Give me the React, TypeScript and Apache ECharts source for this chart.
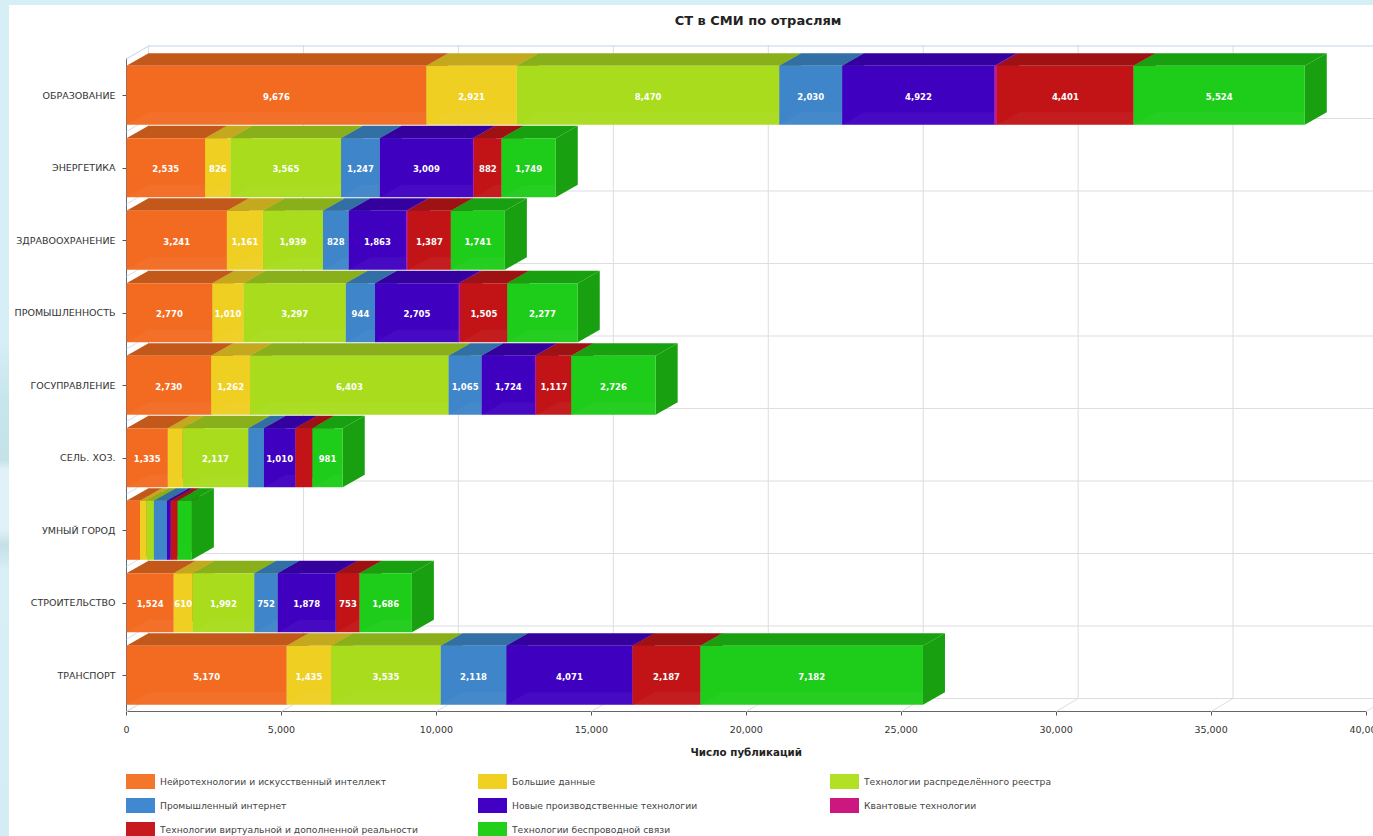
import React, { useEffect, useRef } from "react";
import * as echarts from "echarts";

const CHART_TITLE = "СТ в СМИ по отраслям";
const AXIS_NAME = "Число публикаций";

const sectors = [
  "ОБРАЗОВАНИЕ",
  "ЭНЕРГЕТИКА",
  "ЗДРАВООХРАНЕНИЕ",
  "ПРОМЫШЛЕННОСТЬ",
  "ГОСУПРАВЛЕНИЕ",
  "СЕЛЬ. ХОЗ.",
  "УМНЫЙ ГОРОД",
  "СТРОИТЕЛЬСТВО",
  "ТРАНСПОРТ",
];

const xTicks = [0, 5000, 10000, 15000, 20000, 25000, 30000, 35000, 40000];

const neuro = [9676, 2535, 3241, 2770, 2730, 1335, 435, 1524, 5170];
const bigData = [2921, 826, 1161, 1010, 1262, 480, 215, 610, 1435];
const ledger = [8470, 3565, 1939, 3297, 6403, 2117, 235, 1992, 3535];
const industrialNet = [2030, 1247, 828, 944, 1065, 505, 420, 752, 2118];
const manufacturing = [4922, 3009, 1863, 2705, 1724, 1010, 120, 1878, 4071];
const quantum = [80, 40, 50, 55, 50, 15, 10, 15, 5];
const immersive = [4401, 882, 1387, 1505, 1117, 535, 210, 753, 2187];
const wireless = [5524, 1749, 1741, 2277, 2726, 981, 465, 1686, 7182];

const technologies = [
  { name: "Нейротехнологии и искусственный интеллект", values: neuro, legend: "#f4762a", front: "#f26b21", top: "#c2591b" },
  { name: "Большие данные", values: bigData, legend: "#f0d020", front: "#efcf22", top: "#c4a81e" },
  { name: "Технологии распределённого реестра", values: ledger, legend: "#b2e024", front: "#a8dc1c", top: "#89b01a" },
  { name: "Промышленный интернет", values: industrialNet, legend: "#4088d0", front: "#3e85c9", top: "#316fa5" },
  { name: "Новые производственные технологии", values: manufacturing, legend: "#4200c4", front: "#3f00c0", top: "#34009e" },
  { name: "Квантовые технологии", values: quantum, legend: "#cc1680", front: "#cc1680", top: "#a51268" },
  { name: "Технологии виртуальной и дополненной реальности", values: immersive, legend: "#c81a1e", front: "#c21416", top: "#9e1214" },
  { name: "Технологии беспроводной связи", values: wireless, legend: "#22d01c", front: "#1ecc1a", top: "#18a010" },
];

// The legend runs left to right over three columns.
const legendColumnLefts = [126, 478, 830];
const legendRowTops = [774, 798, 822];

const LABEL_FROM = 600;
const DEPTH_X = 22;
const DEPTH_Y = 12.5;
const BAR_SHARE = 0.815;
const FONT = "'DejaVu Sans', Verdana, sans-serif";

// Start and end of each segment along the stack, per technology and sector.
function stackedRows() {
  const running = sectors.map(() => 0);
  return technologies.map((tech) =>
    tech.values.map((value, sector) => {
      const start = running[sector];
      running[sector] += value;
      return [start, running[sector], sector, value];
    })
  );
}

function poly(points: number[][], fill: string, opacity = 1) {
  return { type: "polygon", shape: { points }, style: { fill, opacity }, silent: true };
}

// One block: front, top and side faces plus its centred value.
function segmentRenderer(tech: (typeof technologies)[number]) {
  return (_params: any, api: any) => {
    const [xa, yc] = api.coord([api.value(0), api.value(2)]);
    const [xb] = api.coord([api.value(1), api.value(2)]);
    const value = api.value(3);
    const h = api.size([0, 1])[1] * BAR_SHARE;
    const yt = yc - h / 2;
    const yb = yc + h / 2;
    const children: any[] = [
      poly([[xa, yt], [xa + DEPTH_X, yt - DEPTH_Y], [xb + DEPTH_X, yt - DEPTH_Y], [xb, yt]], tech.top),
      poly([[xb, yt], [xb + DEPTH_X, yt - DEPTH_Y], [xb + DEPTH_X, yb - DEPTH_Y], [xb, yb]], tech.top),
      poly([[xa, yt], [xb, yt], [xb, yb], [xa, yb]], tech.front),
    ];
    if (xb - xa > DEPTH_X) {
      // floor sheen along the lower edge of the face
      children.push(poly([[xa, yb], [xa + DEPTH_X, yb - DEPTH_Y], [xb, yb - DEPTH_Y], [xb, yb]], "#ffffff", 0.04));
    }
    if (value >= LABEL_FROM) {
      children.push({
        type: "text",
        silent: true,
        style: {
          x: (xa + xb) / 2,
          y: yc + 1.5,
          text: value.toLocaleString("en-US"),
          fill: "#ffffff",
          font: `bold 8.5px ${FONT}`,
          align: "center",
          verticalAlign: "middle",
        },
      });
    }
    return { type: "group", children };
  };
}

// Depth lines on the floor and back wall for each value tick.
function verticalWall(params: any, api: any) {
  const x = api.coord([api.value(0), 0])[0];
  const top = params.coordSys.y;
  const bottom = top + params.coordSys.height;
  return {
    type: "polyline",
    silent: true,
    shape: { points: [[x, bottom], [x + DEPTH_X, bottom - DEPTH_Y - 0.5], [x + DEPTH_X, top - DEPTH_Y - 1]] },
    style: { stroke: "#dddde2", lineWidth: 1, fill: "none" },
  };
}

// Depth lines on the side and back wall at each band boundary.
function horizontalWall(params: any, api: any) {
  const index = api.value(1);
  const band = api.size([0, 1])[1];
  const top = params.coordSys.y;
  const left = params.coordSys.x;
  const y = top + band * index;
  return {
    type: "polyline",
    silent: true,
    shape: { points: [[left, y], [left + DEPTH_X, y - DEPTH_Y - 0.5], [1400, y - DEPTH_Y - 0.5]] },
    style: { stroke: index === 0 ? "#c3d3e6" : "#dddde2", lineWidth: 1, fill: "none" },
  };
}

function buildOption() {
  const rows = stackedRows();
  const boundaries = sectors.map((_, i) => [0, i]).concat([[0, sectors.length]]);
  return {
    animation: false,
    backgroundColor: "transparent",
    title: {
      text: CHART_TITLE,
      left: 753,
      top: 9,
      textAlign: "center",
      textStyle: { fontFamily: FONT, fontSize: 13, fontWeight: "bold", color: "#222222" },
    },
    legend: technologies.map((tech, i) => ({
      left: legendColumnLefts[i % 3],
      top: legendRowTops[Math.floor(i / 3)],
      padding: 0,
      orient: "horizontal",
      itemWidth: 29,
      itemHeight: 15,
      icon: "rect",
      selectedMode: false,
      data: [tech.name],
      textStyle: { fontFamily: FONT, fontSize: 9.2, color: "#444444" },
    })),
    grid: { left: 126.5, top: 59, width: 1239.5, height: 652.5, outerBoundsMode: "none" },
    xAxis: {
      type: "value",
      min: 0,
      max: xTicks[xTicks.length - 1],
      interval: xTicks[1],
      name: AXIS_NAME,
      nameLocation: "middle",
      nameGap: 35,
      nameTextStyle: { fontFamily: FONT, fontSize: 10.3, fontWeight: "bold", color: "#222222" },
      splitLine: { show: false },
      axisLine: { show: true, lineStyle: { color: "#666666", width: 1 } },
      axisTick: { show: true, length: 4, inside: false, lineStyle: { color: "#555555" } },
      axisLabel: {
        margin: 13,
        fontFamily: FONT,
        fontSize: 9.5,
        color: "#333333",
        hideOverlap: false,
        showMaxLabel: true,
        showMinLabel: true,
        formatter: (v: number) => v.toLocaleString("en-US"),
      },
    },
    yAxis: {
      type: "category",
      data: sectors,
      inverse: true,
      axisLine: { show: true, lineStyle: { color: "#5e6c7c", width: 1 } },
      axisTick: { show: true, length: 4, alignWithLabel: true, lineStyle: { color: "#555555" } },
      axisLabel: { margin: 11, fontFamily: FONT, fontSize: 9.5, color: "#333333", padding: [6, 0, 0, 0] },
      splitLine: { show: false },
    },
    series: [
      {
        type: "custom",
        name: "wall-x",
        silent: true,
        z: 1,
        clip: false,
        renderItem: verticalWall,
        encode: { x: 0, y: 1 },
        data: xTicks.map((v) => [v, 0]),
      },
      {
        type: "custom",
        name: "wall-y",
        silent: true,
        z: 1,
        clip: false,
        renderItem: horizontalWall,
        data: boundaries,
      },
      ...technologies.map((tech, i) => ({
        type: "custom",
        name: tech.name,
        z: 3 + i,
        clip: false,
        silent: true,
        itemStyle: { color: tech.legend },
        renderItem: segmentRenderer(tech),
        encode: { x: [0, 1], y: 2 },
        data: rows[i],
      })),
    ],
  };
}

export default function App() {
  const ref = useRef<HTMLDivElement>(null);

  useEffect(() => {
    if (!ref.current) return;
    const chart = echarts.init(ref.current, undefined, { renderer: "svg" });
    chart.setOption(buildOption() as any);
    return () => chart.dispose();
  }, []);

  return (
    <div
      style={{
        position: "fixed",
        left: 0,
        top: 0,
        width: 1373,
        height: 836,
        overflow: "hidden",
        background:
          "linear-gradient(180deg, #d6eef6 0px, #d6eef6 340px, #c8e5ec 400px, #c4e2e8 460px, #e0f2f8 470px, #def1f7 530px, #c4dfe6 545px, #d8eff6 570px, #d4edf5 836px)",
      }}
    >
      <div style={{ position: "absolute", left: 9, top: 5, right: 0, bottom: 0, background: "#ffffff" }} />
      <div ref={ref} style={{ position: "absolute", left: 0, top: 0, width: 1373, height: 836 }} />
    </div>
  );
}
